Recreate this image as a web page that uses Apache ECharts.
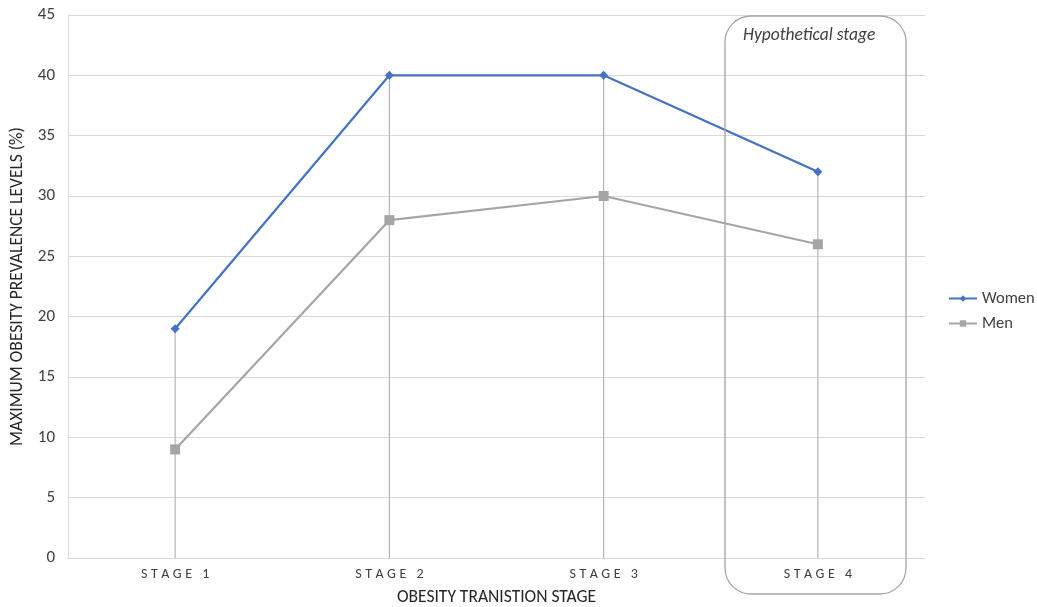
<!DOCTYPE html>
<html><head><meta charset="utf-8">
<script src="https://cdn.jsdelivr.net/npm/echarts@6/dist/echarts.min.js"></script>
<style>html,body{margin:0;padding:0;background:#fff;overflow:hidden}#c{width:1037px;height:607px}</style>
</head><body><div id="c"></div>
<script>
const categories = ['STAGE 1', 'STAGE 2', 'STAGE 3', 'STAGE 4'];
const women = [19, 40, 40, 32];
const men = [9, 28, 30, 26];
const yTicks = { min: 0, max: 45, interval: 5 };

const dropTop = categories.map((c, i) => Math.max(women[i], men[i]));
const chart = echarts.init(document.getElementById('c'));
const font = 'Calibri, Carlito, "Liberation Sans", sans-serif';
chart.setOption({
  animation: false,
  textStyle: { fontFamily: font },
  grid: { left: 68, right: 112, top: 15, bottom: 49, outerBoundsMode: 'none', containLabel: false },
  legend: {
    orient: 'vertical', left: 948, top: 290, itemGap: 8, padding: 0,
    itemWidth: 28, itemHeight: 8,
    textStyle: { fontSize: 16.5, color: '#404040', fontFamily: font },
    data: ['Women', 'Men']
  },
  xAxis: {
    type: 'category', data: categories, boundaryGap: true,
    axisLine: { lineStyle: { color: '#d9d9d9' } },
    axisTick: { show: false },
    axisLabel: { color: '#404040', fontSize: 14, margin: 9,
      formatter: v => v.split('').join('\u2005') },
    name: 'OBESITY TRANISTION STAGE', nameLocation: 'middle', nameGap: 31,
    nameTextStyle: { color: '#262626', fontSize: 17.5 }
  },
  yAxis: {
    type: 'value', min: yTicks.min, max: yTicks.max, interval: yTicks.interval,
    axisLine: { show: true, lineStyle: { color: '#d9d9d9' } },
    splitLine: { lineStyle: { color: '#d9d9d9' } },
    axisLabel: { color: '#404040', fontSize: 17, margin: 13 },
    name: 'MAXIMUM OBESITY PREVALENCE LEVELS (%)', nameLocation: 'middle', nameGap: 41,
    nameTextStyle: { color: '#262626', fontSize: 17.5 }
  },
  graphic: [
    { type: 'rect', shape: { x: 725, y: 16, width: 181, height: 578, r: 26 },
      style: { fill: 'none', stroke: '#a6a6a6', lineWidth: 1.3 }, z: 10 },
    { type: 'text', left: 743, top: 27,
      style: { text: 'Hypothetical stage', fontStyle: 'italic', fontSize: 17.5, fill: '#404040', fontFamily: font }, z: 10 }
  ],
  series: [
    { type: 'bar', name: 'drop', data: dropTop, barWidth: 1.2, silent: true,
      itemStyle: { color: '#b3b3b3' }, legendHoverLink: false, z: 1 },
    { type: 'line', name: 'Women', data: women, symbol: 'diamond', symbolSize: 9,
      lineStyle: { color: '#4472C4', width: 2.2 }, itemStyle: { color: '#4472C4' }, z: 3 },
    { type: 'line', name: 'Men', data: men, symbol: 'rect', symbolSize: 10,
      lineStyle: { color: '#A5A5A5', width: 2.2 }, itemStyle: { color: '#A5A5A5' }, z: 3 }
  ]
});
</script></body></html>
